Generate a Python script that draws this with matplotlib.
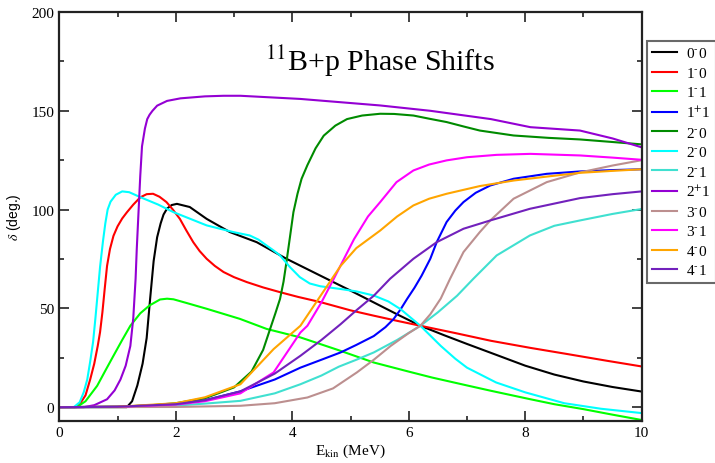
import matplotlib
matplotlib.use("Agg")
import matplotlib.pyplot as plt
from matplotlib.ticker import MultipleLocator

plt.rcParams['mathtext.fontset'] = 'stix'
plt.rcParams['font.family'] = ['Liberation Serif', 'DejaVu Serif']

# ---- data ----
labels = [r'0$^{\text{-}}$0', r'1$^{\text{-}}$0', r'1$^{\text{-}}$1', r'1$^{+}$1',
          r'2$^{\text{-}}$0', r'2$^{\text{-}}$0', r'2$^{\text{-}}$1', r'2$^{+}$1',
          r'3$^{\text{-}}$0', r'3$^{\text{-}}$1', r'4$^{\text{-}}$0', r'4$^{\text{-}}$1']

x_00m = [0, 1.16, 1.25, 1.34, 1.43, 1.50, 1.56, 1.62, 1.68, 1.74, 1.79, 1.85, 1.93, 2.02,
         2.24, 2.53, 2.93, 3.39, 3.90, 4.48, 5.0, 5.4, 5.8, 6.2, 6.6, 7.0, 7.41, 8.0, 8.5,
         9.0, 9.5, 10]
y_00m = [0, 0, 3, 11, 22, 35, 55, 74, 86, 93, 97.5, 100.5, 102.3, 102.9,
         101.3, 95.3, 88.6, 83.5, 75.1, 66.6, 59, 53, 47, 41.2, 36.5, 32, 27.5, 21, 16.5,
         13, 10.2, 7.9]

x_10m = [0, 0.27, 0.35, 0.45, 0.53, 0.6, 0.66, 0.70, 0.74, 0.78, 0.82, 0.87, 0.93, 1.0, 1.08,
         1.16, 1.27, 1.39, 1.5, 1.61, 1.72, 1.84, 1.95, 2.07, 2.18, 2.30, 2.41, 2.53, 2.67,
         2.82, 3.0, 3.22, 3.5, 3.79, 4.1, 4.48, 5.0, 5.4, 5.8, 6.2, 6.8, 7.41, 8.09, 8.7,
         9.4, 10]
y_10m = [0, 0, 1.5, 6, 14, 22, 31, 38, 48, 60, 71.5, 80, 86.7, 91.5, 95.5,
         98.6, 102.5, 106.2, 107.8, 108, 106.5, 103.8, 100, 95.3, 89.5, 83.5, 79, 75.1, 71.5,
         68.4, 65.8, 63.3, 60.6, 58.2, 55.8, 53.2, 49, 46.3, 43.7, 41.2, 37.5, 33.6, 30, 27,
         23.5, 20.6]

x_11m = [0, 0.3, 0.45, 0.65, 0.8, 0.93, 1.08, 1.22, 1.39, 1.55, 1.73, 1.85, 1.96, 2.2, 2.53,
         3.10, 3.56, 4.14, 4.8, 5.4, 6.0, 6.4, 7.0, 7.41, 8.09, 8.5, 9, 9.5, 10]
y_11m = [0, 0, 3, 10.8, 19, 26, 34, 41.2, 47.5, 51.5, 54.5, 54.9, 54.6, 52.6, 49.8,
         44.7, 39.6, 35.3, 28.8, 22.6, 18, 15, 11, 8.3, 4, 1.5, -1, -3.8, -6.5]

x_11p = [0, 1, 2, 2.5, 3.11, 3.7, 4.14, 4.5, 4.83, 5.1, 5.4, 5.6, 5.74, 5.86, 5.97, 6.1,
         6.22, 6.37, 6.48, 6.65, 6.8, 6.94, 7.15, 7.40, 7.8, 8.37, 8.94, 9.5, 10]
y_11p = [0, 0.2, 1.5, 3.5, 8, 14, 20, 24, 27.7, 31.5, 36, 40.5, 44.6, 49.5, 54.7, 60.5,
         66.5, 75.1, 83.5, 93.7, 99.5, 103.8, 108.5, 112.2, 115.6, 118.1, 119.3, 120, 120.4]

x_20m_a = [0, 1, 1.5, 2, 2.5, 3.0, 3.3, 3.5, 3.62, 3.71, 3.79, 3.85, 3.90, 3.96, 4.02, 4.09,
           4.16, 4.26, 4.4, 4.54, 4.74, 4.94, 5.2, 5.51, 5.75, 6.08, 6.35, 6.65, 6.95, 7.22,
           7.8, 8.4, 8.94, 9.5, 10]
y_20m_a = [0, 0.3, 0.8, 2, 4.5, 10, 18, 29, 39.6, 47.5, 54.8, 63.5, 73.4, 86, 98.7, 108,
           115.6, 122.5, 131, 137.4, 142.5, 145.8, 147.6, 148.5, 148.4, 147.6, 146, 144.3,
           142, 140, 137.5, 136.3, 135.5, 134.2, 133]

x_20m_b = [0, 0.25, 0.35, 0.42, 0.48, 0.53, 0.58, 0.62, 0.66, 0.70, 0.75, 0.79, 0.83, 0.88,
           0.97, 1.08, 1.2, 1.39, 1.7, 1.96, 2.25, 2.53, 2.99, 3.27, 3.42, 3.56, 3.68, 3.79,
           3.96, 4.13, 4.3, 4.48, 4.83, 5.1, 5.4, 5.65, 5.86, 6.2, 6.55, 6.8, 7.0, 7.5, 8.0,
           8.67, 9.3, 10]
y_20m_b = [0, 0, 2.5, 7.6, 14, 23, 33, 45, 58, 71, 84, 93, 100, 104,
           107.5, 109.2, 108.8, 106.3, 102.5, 98.7, 95.3, 92, 88.6, 86.9, 84.8, 81.8, 79.3,
           76.8, 70.9, 65.8, 62.6, 61.2, 59.8, 58.6, 56.5, 53.5, 49.6, 41.2, 31, 24.5, 20,
           12.5, 7.5, 2, -0.8, -3]

x_21m = [0, 1, 2, 2.5, 3.11, 3.7, 4.14, 4.5, 4.8, 5.1, 5.4, 5.8, 6.2, 6.5, 6.83, 7.11,
         7.51, 8.08, 8.5, 8.94, 9.5, 10]
y_21m = [0, 0.1, 0.8, 1.8, 3.2, 7, 11.6, 16, 20.5, 24, 27.7, 34, 41.2, 48, 56.4, 65,
         76.8, 86.9, 91.8, 94.5, 97.8, 100.3]

x_21p = [0, 0.42, 0.6, 0.82, 0.95, 1.05, 1.14, 1.22, 1.27, 1.31, 1.33, 1.36, 1.39, 1.42,
         1.47, 1.51, 1.55, 1.6, 1.68, 1.85, 2.08, 2.5, 2.82, 3.11, 4.14, 5.51, 6.37, 7.41,
         8.09, 8.94, 9.5, 10]
y_21p = [0, 0, 1, 4, 8.5, 14, 21, 31, 45, 65, 80, 98.6, 117, 132,
         141, 145.8, 148, 150, 152.6, 155, 156.3, 157.3, 157.6, 157.6, 156, 152.7, 150,
         145.8, 141.7, 140, 136, 131.5]

x_30m = [0, 2, 3.11, 3.7, 4.26, 4.7, 5.11, 5.4, 5.69, 6.0, 6.2, 6.37, 6.55, 6.71, 6.94,
         7.22, 7.40, 7.8, 8.37, 8.94, 9.5, 10]
y_30m = [0, 0.1, 0.7, 2, 4.9, 9.5, 17.6, 24, 31, 37.5, 41.2, 47, 55, 65, 78.5,
         88.6, 94.5, 105.5, 113.9, 118.8, 122.3, 125]

x_31m = [0, 1, 2, 2.5, 3.11, 3.68, 4.14, 4.26, 4.5, 4.71, 5.06, 5.30, 5.51, 5.79, 6.08,
         6.35, 6.65, 7.0, 7.51, 8.09, 8.94, 9.5, 10]
y_31m = [0, 0.2, 1.3, 3, 7, 17.6, 37.8, 41.2, 53, 64.8, 85, 96.5, 103.8, 113.9, 119.8,
         122.8, 124.9, 126.5, 127.7, 128.2, 127.4, 126.3, 125.2]

x_40m = [0, 1, 2, 2.5, 3.11, 3.68, 4.14, 4.5, 4.83, 5.1, 5.51, 5.8, 6.08, 6.35, 6.65,
         7.22, 7.80, 8.4, 8.94, 9.5, 10]
y_40m = [0, 0.2, 2, 5, 11.6, 29.4, 41.2, 57, 71.5, 80.5, 89.4, 96.5, 102.1, 105.5, 108,
         111.9, 114.7, 116.8, 118.6, 119.6, 120.4]

x_41m = [0, 1, 2, 2.5, 3.11, 3.7, 4.14, 4.5, 4.83, 5.1, 5.40, 5.68, 6.08, 6.48, 6.94,
         7.40, 8.08, 8.94, 9.5, 10]
y_41m = [0, 0.2, 1.5, 3.5, 8, 17, 26, 34, 42, 49, 56.4, 65, 75.1, 83.5, 90.3,
         94.5, 100.4, 105.8, 107.8, 109.2]

xs = [x_00m, x_10m, x_11m, x_11p, x_20m_a, x_20m_b, x_21m, x_21p, x_30m, x_31m, x_40m, x_41m]
ys = [y_00m, y_10m, y_11m, y_11p, y_20m_a, y_20m_b, y_21m, y_21p, y_30m, y_31m, y_40m, y_41m]

colors = ['#000000', '#ff0000', '#00ff00', '#0000ff', '#008b00', '#00ffff',
          '#40e0d0', '#9400d3', '#bc8f8f', '#ff00ff', '#ffa500', '#7221bc']

# ---- figure ----
fig = plt.figure(figsize=(7.15, 4.64), dpi=100)
ax = fig.add_axes([59.3 / 715, 1 - 422 / 464, (641.7 - 59.3) / 715, (422 - 13) / 464])

handles = []
for x, y, c, lab in zip(xs, ys, colors, labels):
    h, = ax.plot(x, y, color=c, lw=1.5, label=lab, solid_joinstyle='round')
    handles.append(h)

ax.set_xlim(0, 10)
ax.set_ylim(-7, 200)
ax.xaxis.set_major_locator(MultipleLocator(2))
ax.xaxis.set_minor_locator(MultipleLocator(1))
ax.yaxis.set_major_locator(MultipleLocator(50))
ax.yaxis.set_minor_locator(MultipleLocator(25))
ax.tick_params(which='both', direction='in', top=True, right=True, width=1.2, color='#222222',
               labelsize=11)
ax.tick_params(which='major', length=7)
ax.tick_params(which='minor', length=3.5)
for s in ax.spines.values():
    s.set_linewidth(1.6)
    s.set_color('#222222')

ax.set_xlabel(r'E$_{\rm kin}$ (MeV)', fontsize=11, labelpad=2)
ax.set_ylabel(r'$\delta$ (deg.)', fontsize=10, family=['Liberation Sans', 'DejaVu Sans'],
              labelpad=6)

fig.text(265 / 715, 1 - 71 / 464, r'$^{11}$B+p Phase Shifts', fontsize=21.5,
         ha='left', va='baseline')

leg = fig.legend(handles=handles, loc='upper left', bbox_to_anchor=(647 / 715, 1 - 42 / 464),
                 fontsize=11, frameon=True, fancybox=False, handlelength=1.6,
                 handletextpad=0.6, labelspacing=0.36, borderpad=0.35, borderaxespad=0)
leg.get_frame().set_edgecolor('#444444')
leg.get_frame().set_linewidth(1.5)

fig.savefig('out.png', dpi=100)
